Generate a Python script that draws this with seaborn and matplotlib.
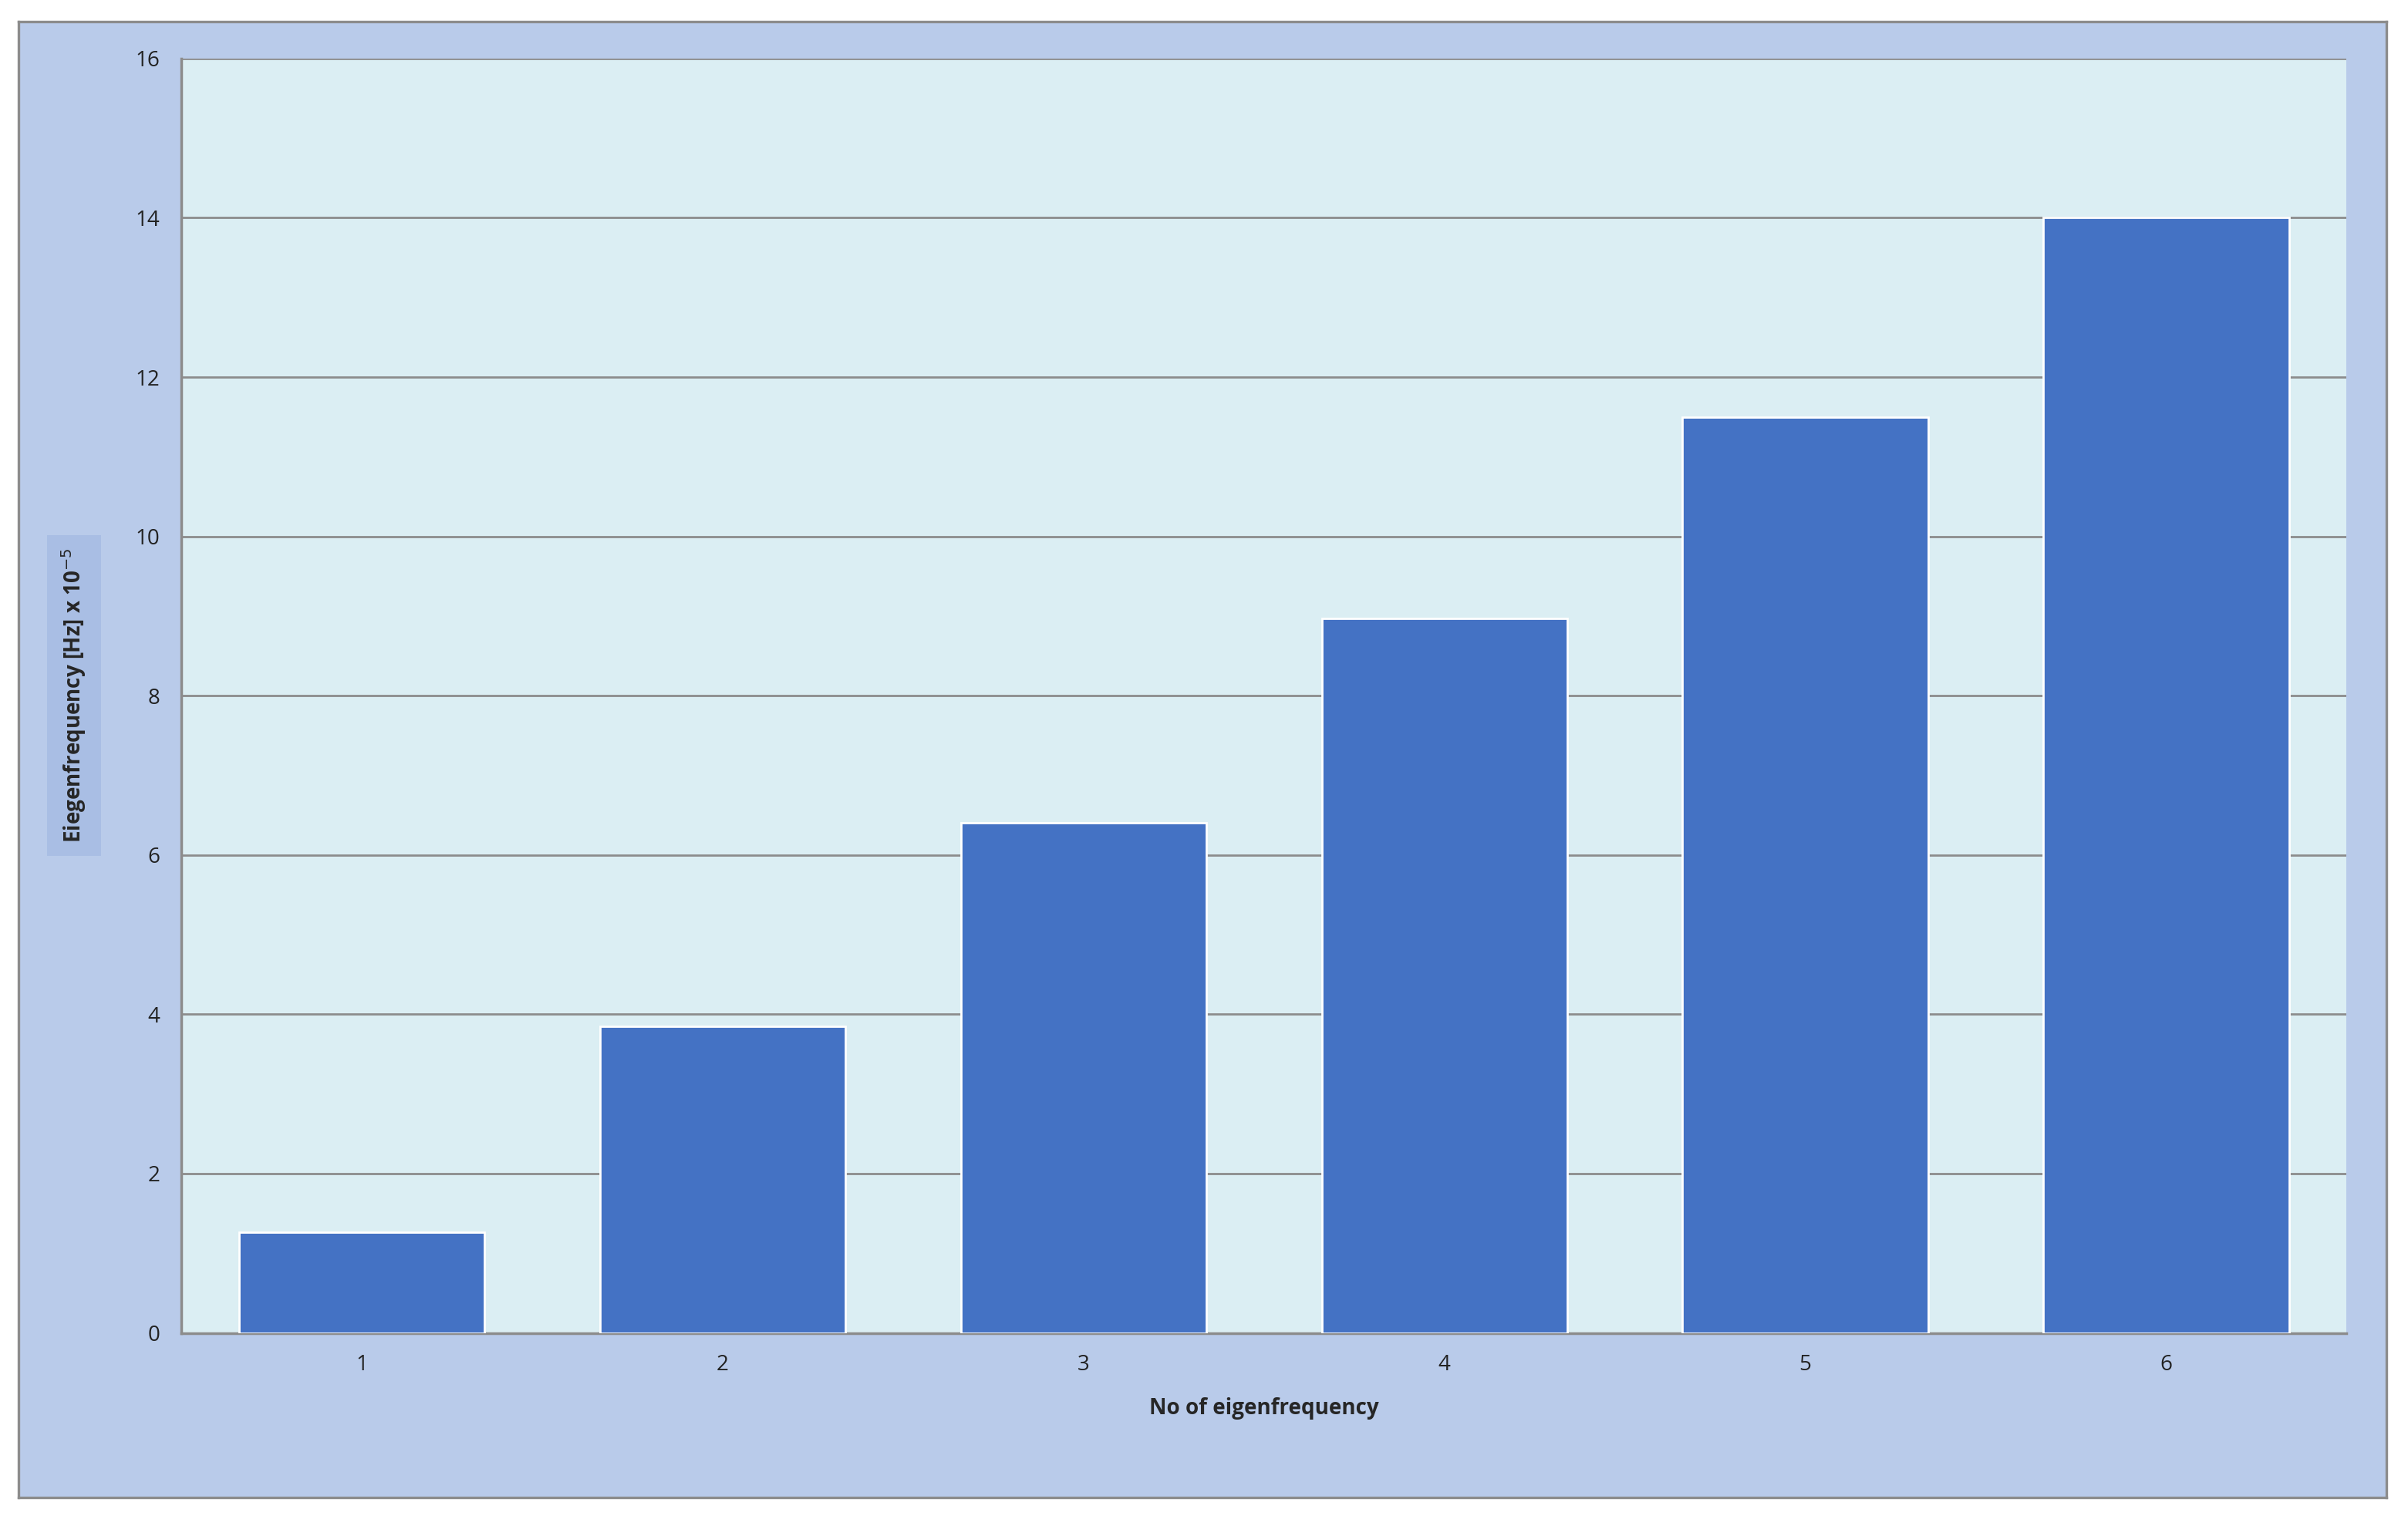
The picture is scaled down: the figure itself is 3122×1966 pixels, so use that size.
import matplotlib
matplotlib.use("Agg")
import matplotlib.pyplot as plt
import seaborn as sns
import pandas as pd

modes = ["1", "2", "3", "4", "5", "6"]
freqs = [1.26, 3.85, 6.4, 8.97, 11.5, 14.0]
yticks = [0, 2, 4, 6, 8, 10, 12, 14, 16]

sns.set_theme(style="white")
plt.rcParams['font.family'] = ['Open Sans', 'DejaVu Sans']

fig = plt.figure(figsize=(15.61, 9.83), dpi=200)
fig.patch.set_facecolor("white")
bg = fig.add_axes([0.0077, 0.0122, 0.9833, 0.9736], zorder=0)
bg.set_facecolor("#B9CBEA")
bg.set_xticks([]); bg.set_yticks([])
for s in bg.spines.values():
    s.set_color("#8C8C8C"); s.set_linewidth(1.2)

ax = fig.add_axes([0.0753, 0.1208, 0.8992, 0.8406], zorder=1)
ax.set_facecolor("#DBEEF3")

df = pd.DataFrame({"mode": modes, "freq": freqs})
sns.barplot(data=df, x="mode", y="freq", color="#4472C4", saturation=1, width=0.68, ax=ax, zorder=3)
ax.set_ylim(0, 16)
ax.set_yticks(yticks)
ax.yaxis.grid(True, color="#8C8C8C", linewidth=1.0, zorder=0)
ax.set_axisbelow(True)
for s in ["top", "right"]:
    ax.spines[s].set_visible(False)
ax.spines["left"].set_color("#8C8C8C")
ax.spines["bottom"].set_color("#8C8C8C")
ax.tick_params(axis="both", labelsize=10, colors="#222222", length=0, pad=10)
ax.set_xlabel("No of eigenfrequency", fontsize=10, fontweight="bold", labelpad=10)
ax.set_ylabel("Eiegenfrequency [Hz] x 10$^{-5}$", fontsize=10, fontweight="bold", labelpad=22,
              bbox=dict(facecolor="#A9BEE4", edgecolor="none", pad=6))
fig.savefig("out.png", dpi=200)
